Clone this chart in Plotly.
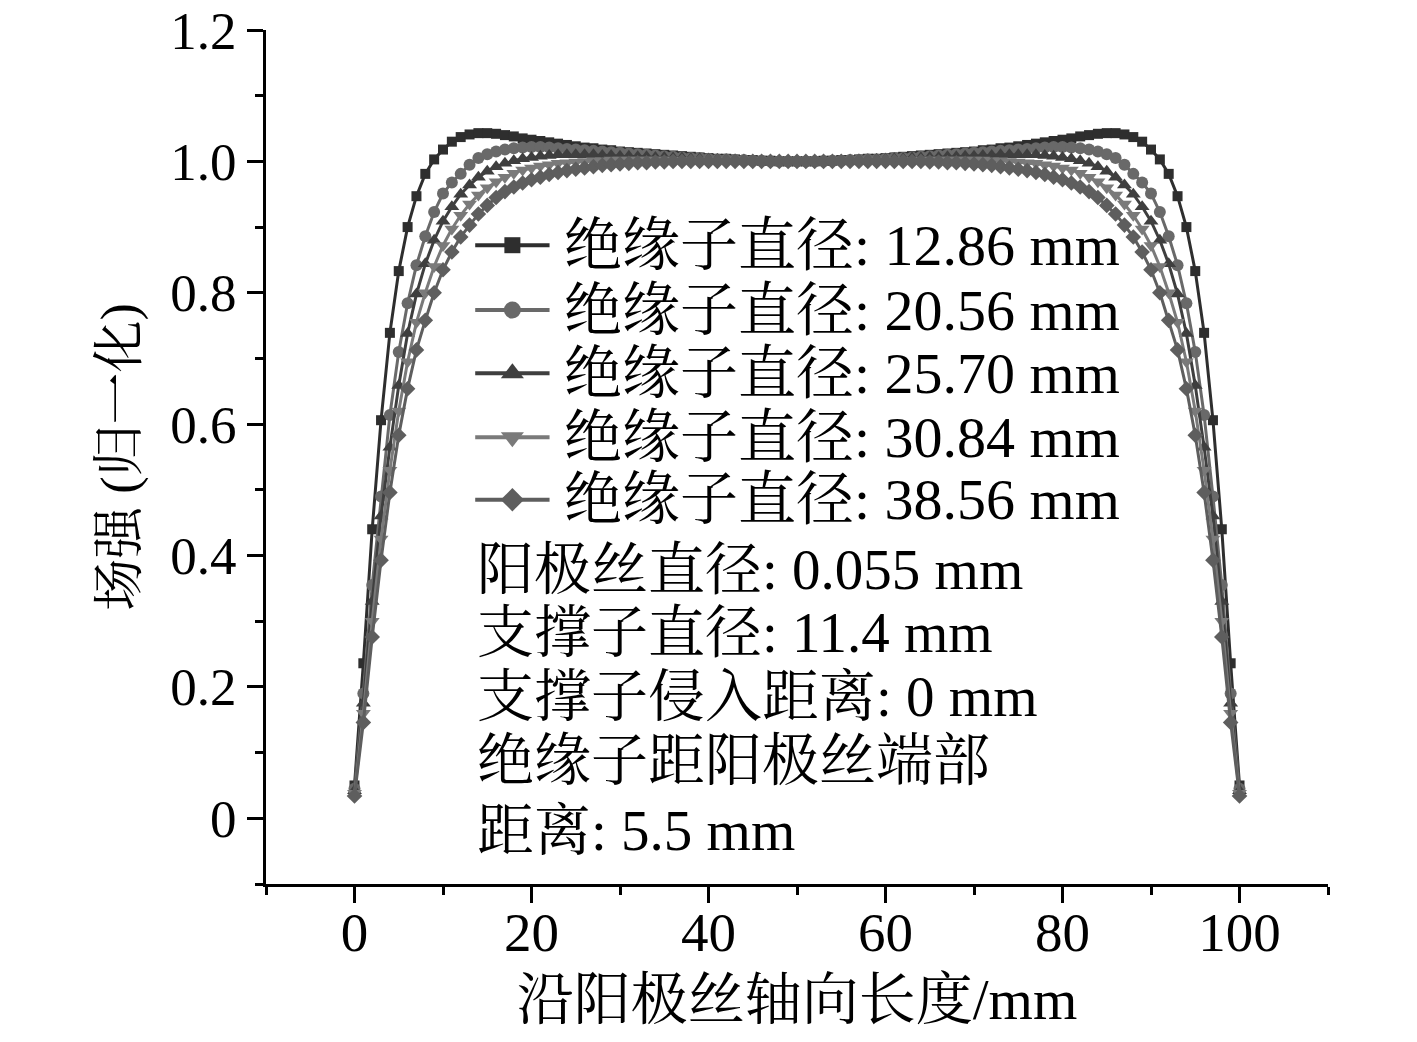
import plotly.graph_objects as go

x_mm = list(range(0, 101))

names = ["绝缘子直径: 12.86 mm", "绝缘子直径: 20.56 mm", "绝缘子直径: 25.70 mm",
         "绝缘子直径: 30.84 mm", "绝缘子直径: 38.56 mm"]

d12_86 = [0.050,0.236,0.440,0.606,0.739,0.833,0.900,0.947,0.981,1.003,
          1.018,1.030,1.037,1.041,1.043,1.043,1.042,1.040,1.038,1.035,
          1.033,1.031,1.029,1.027,1.025,1.023,1.021,1.020,1.018,1.017,
          1.015,1.014,1.013,1.012,1.011,1.010,1.009,1.008,1.007,1.006,
          1.005,1.004,1.004,1.003,1.002,1.002,1.001,1.001,1.000,1.000,
          1.000,
          1.000,1.000,1.001,1.001,1.002,1.002,1.003,1.004,1.004,1.005,
          1.006,1.007,1.008,1.009,1.010,1.011,1.012,1.013,1.014,1.015,
          1.017,1.018,1.020,1.021,1.023,1.025,1.027,1.029,1.031,1.033,
          1.035,1.038,1.040,1.042,1.043,1.043,1.041,1.037,1.030,1.018,
          1.003,0.981,0.947,0.900,0.833,0.739,0.606,0.440,0.236,0.050]

d20_56 = [0.045,0.190,0.355,0.490,0.614,0.710,0.784,0.842,0.886,0.923,
          0.951,0.968,0.981,0.995,1.005,1.011,1.015,1.018,1.020,1.021,
          1.022,1.022,1.021,1.020,1.019,1.018,1.017,1.016,1.015,1.014,
          1.013,1.012,1.011,1.010,1.009,1.008,1.007,1.006,1.005,1.005,
          1.004,1.003,1.003,1.002,1.002,1.001,1.001,1.000,1.000,1.000,
          1.000,
          1.000,1.000,1.000,1.001,1.001,1.002,1.002,1.003,1.003,1.004,
          1.005,1.005,1.006,1.007,1.008,1.009,1.010,1.011,1.012,1.013,
          1.014,1.015,1.016,1.017,1.018,1.019,1.020,1.021,1.022,1.022,
          1.021,1.020,1.018,1.015,1.011,1.005,0.995,0.981,0.968,0.951,
          0.923,0.886,0.842,0.784,0.710,0.614,0.490,0.355,0.190,0.045]

d25_70 = [0.042,0.175,0.330,0.460,0.565,0.659,0.738,0.798,0.844,0.880,
          0.909,0.931,0.950,0.964,0.976,0.985,0.992,0.997,1.001,1.004,
          1.006,1.008,1.009,1.010,1.010,1.010,1.010,1.010,1.009,1.009,
          1.008,1.008,1.007,1.007,1.006,1.006,1.005,1.005,1.004,1.004,
          1.003,1.003,1.002,1.002,1.001,1.001,1.001,1.000,1.000,1.000,
          1.000,
          1.000,1.000,1.000,1.001,1.001,1.001,1.002,1.002,1.003,1.003,
          1.004,1.004,1.005,1.005,1.006,1.006,1.007,1.007,1.008,1.008,
          1.009,1.009,1.010,1.010,1.010,1.010,1.010,1.009,1.008,1.006,
          1.004,1.001,0.997,0.992,0.985,0.976,0.964,0.950,0.931,0.909,
          0.880,0.844,0.798,0.738,0.659,0.565,0.460,0.330,0.175,0.042]

d30_84 = [0.038,0.160,0.300,0.425,0.530,0.620,0.695,0.755,0.800,0.840,
          0.872,0.897,0.918,0.935,0.949,0.960,0.969,0.976,0.982,0.987,
          0.990,0.993,0.995,0.997,0.998,0.999,1.000,1.001,1.001,1.002,
          1.002,1.002,1.002,1.002,1.002,1.002,1.002,1.001,1.001,1.001,
          1.001,1.001,1.001,1.000,1.000,1.000,1.000,1.000,1.000,1.000,
          1.000,
          1.000,1.000,1.000,1.000,1.000,1.000,1.000,1.001,1.001,1.001,
          1.001,1.001,1.001,1.002,1.002,1.002,1.002,1.002,1.002,1.002,
          1.002,1.001,1.001,1.000,0.999,0.998,0.997,0.995,0.993,0.990,
          0.987,0.982,0.976,0.969,0.960,0.949,0.935,0.918,0.897,0.872,
          0.840,0.800,0.755,0.695,0.620,0.530,0.425,0.300,0.160,0.038]

d38_56 = [0.034,0.146,0.276,0.393,0.496,0.583,0.654,0.713,0.758,0.800,
          0.835,0.862,0.885,0.903,0.920,0.933,0.945,0.954,0.961,0.967,
          0.972,0.976,0.980,0.983,0.986,0.988,0.990,0.992,0.994,0.995,
          0.996,0.997,0.998,0.998,0.999,0.999,1.000,1.000,1.000,1.000,
          1.000,1.000,1.000,1.000,1.000,1.000,1.000,1.000,1.000,1.000,
          1.000,
          1.000,1.000,1.000,1.000,1.000,1.000,1.000,1.000,1.000,1.000,
          1.000,1.000,1.000,1.000,0.999,0.999,0.998,0.998,0.997,0.996,
          0.995,0.994,0.992,0.990,0.988,0.986,0.983,0.980,0.976,0.972,
          0.967,0.961,0.954,0.945,0.933,0.920,0.903,0.885,0.862,0.835,
          0.800,0.758,0.713,0.654,0.583,0.496,0.393,0.276,0.146,0.034]

series = [d12_86, d20_56, d25_70, d30_84, d38_56]
colors = ["#2e2e2e", "#696969", "#3f3f3f", "#7a7a7a", "#5e5e5e"]
symbols = ["square", "circle", "triangle-up", "triangle-down", "diamond"]
msizes = [10, 12, 13, 13, 12]
leg_msizes = [16, 17, 20, 20, 18]

x_ticks = [0, 20, 40, 60, 80, 100]
y_ticks = [0, 0.2, 0.4, 0.6, 0.8, 1.0, 1.2]
y_ticktext = ["0", "0.2", "0.4", "0.6", "0.8", "1.0", "1.2"]

notes = ["阳极丝直径: 0.055 mm", "支撑子直径: 11.4 mm", "支撑子侵入距离: 0 mm",
         "绝缘子距阳极丝端部", "距离: 5.5 mm"]

FONT = "Liberation Serif, Noto Serif CJK SC, Noto Sans CJK SC, serif"

fig = go.Figure()
for name, ys, c, s, ms in zip(names, series, colors, symbols, msizes):
    fig.add_trace(go.Scatter(
        x=x_mm, y=ys, name=name, mode="lines+markers", showlegend=False,
        line=dict(color=c, width=3),
        marker=dict(symbol=s, size=ms, color=c, line=dict(width=0)),
    ))

# custom legend (samples drawn on an overlay axis spanning the plot area 0..1)
leg_y = [0.748, 0.672, 0.598, 0.523, 0.450]
leg_x0, leg_xm, leg_x1, leg_tx = 0.197, 0.232, 0.267, 0.279
for name, c, s, ms, yy in zip(names, colors, symbols, leg_msizes, leg_y):
    fig.add_trace(go.Scatter(
        x=[leg_x0, leg_x1], y=[yy, yy], mode="lines", showlegend=False,
        line=dict(color=c, width=4), xaxis="x2", yaxis="y2", hoverinfo="skip"))
    fig.add_trace(go.Scatter(
        x=[leg_xm], y=[yy], mode="markers", showlegend=False,
        marker=dict(symbol=s, size=ms, color=c, line=dict(width=0)),
        xaxis="x2", yaxis="y2", hoverinfo="skip"))
    fig.add_annotation(text=name, xref="paper", yref="paper", x=leg_tx, y=yy,
                       xanchor="left", yanchor="middle", showarrow=False,
                       font=dict(size=58, family=FONT, color="black"))

fig.update_layout(
    width=1401, height=1026,
    margin=dict(l=258, r=81, t=22, b=150),
    plot_bgcolor="white", paper_bgcolor="white",
    font=dict(family=FONT, size=56, color="black"),
    showlegend=False,
    xaxis2=dict(overlaying="x", range=[0, 1], visible=False, fixedrange=True),
    yaxis2=dict(overlaying="y", range=[0, 1], visible=False, fixedrange=True),
)

fig.layout.xaxis.update(
    range=[-10, 110], tickvals=x_ticks, ticks="outside", ticklen=16, tickwidth=3,
    tickcolor="black", showline=True, linewidth=3, linecolor="black",
    showgrid=False, zeroline=False, tickfont=dict(size=55, family=FONT),
    automargin=False, ticklabelstandoff=-18, ticklabeloverflow="allow",
    minor=dict(dtick=10, tick0=0, ticks="outside", ticklen=8, tickwidth=3, tickcolor="black"),
    title=dict(text="沿阳极丝轴向长度/mm", font=dict(size=57, family=FONT), standoff=18),
)
fig.layout.yaxis.update(
    range=[-0.1, 1.2], tickvals=y_ticks, ticktext=y_ticktext, ticks="outside",
    ticklen=16, tickwidth=3, tickcolor="black", showline=True, linewidth=3,
    linecolor="black", showgrid=False, zeroline=False,
    tickfont=dict(size=53, family=FONT), automargin=False, ticklabeloverflow="allow",
    minor=dict(dtick=0.1, tick0=0, ticks="outside", ticklen=8, tickwidth=3, tickcolor="black"),
    title=dict(text="场强 (归一化)", font=dict(size=52, family=FONT), standoff=16),
)

note_y = [0.368, 0.294, 0.219, 0.145, 0.063]
for t, yy in zip(notes, note_y):
    fig.add_annotation(text=t, xref="paper", yref="paper", x=0.197, y=yy,
                       xanchor="left", yanchor="middle", showarrow=False,
                       font=dict(size=57, family=FONT, color="black"))

fig.write_html("out.html")
